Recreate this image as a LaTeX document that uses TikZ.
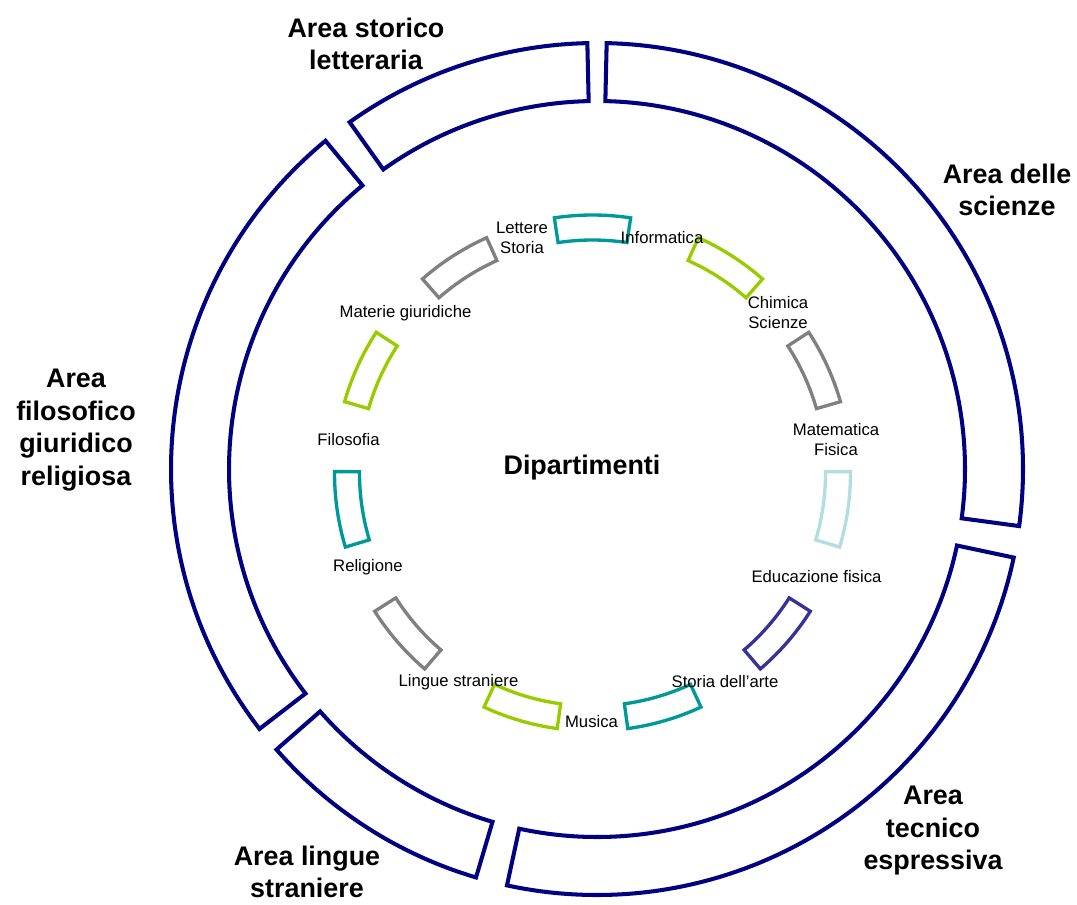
\documentclass[tikz,border=0pt]{standalone}
\usepackage{fontspec}
\setmainfont{Liberation Sans}
\usepackage{tikz}
\definecolor{areablue}{HTML}{000080}
\definecolor{deptteal}{HTML}{009999}
\definecolor{deptgreen}{HTML}{99CC00}
\definecolor{deptgray}{HTML}{808080}
\definecolor{deptlight}{HTML}{B2DDE1}
\definecolor{deptindigo}{HTML}{333399}
\tikzset{
    areaseg/.style = {
        draw=areablue,
        line width=2.3pt
    },
    deptseg/.style = {
        line width=1.9pt
    },
    arealabel/.style = {
        align=center,
        inner sep=0pt,
        font=\fontsize{15.3}{18.5}\selectfont\bfseries
    },
    deptlabel/.style = {
        align=center,
        inner sep=0pt,
        font=\fontsize{9.5}{11}\selectfont
    }
}

\begin{document}
\begin{tikzpicture}[x=0.02cm, y=0.02cm]
    \useasboundingbox (0,0) rectangle (1077,904);
    \begin{scope}[shift={(597,435)}]
        \foreach \a/\b in {91.3/125.5, 129.6/217.6, 221.2/253.5, 257.8/348.0, 352.3/448.7} {
            \draw[areaseg] (\a:426) arc[start angle=\a, end angle=\b, radius=426]
                -- (\b:368) arc[start angle=\b, end angle=\a, radius=368] -- cycle;
        }
    \end{scope}
    \begin{scope}[shift={(592.5,431)}]
        \foreach \k/\col in {0/deptteal, 1/deptgreen, 2/deptgray, 3/deptlight, 4/deptindigo,
                5/deptteal, 6/deptgreen, 7/deptgray, 8/deptteal, 9/deptgreen, 10/deptgray} {
            \pgfmathsetmacro{\sa}{98.5-\k*360/11}
            \pgfmathsetmacro{\sb}{\sa-17}
            \draw[deptseg, draw=\col] (\sa:258) arc[start angle=\sa, end angle=\sb, radius=258]
                -- (\sb:233) arc[start angle=\sb, end angle=\sa, radius=233] -- cycle;
        }
    \end{scope}
    \node[arealabel] (storico) at (366,860) {Area storico\\letteraria};
    \node[arealabel] (scienze) at (1007,714) {Area delle\\scienze};
    \node[arealabel] (filosofico) at (76,474) {Area\\filosofico\\giuridico\\religiosa};
    \node[arealabel] (lingue) at (307,32) {Area lingue\\straniere};
    \node[arealabel] (tecnico) at (933,73) {Area\\tecnico\\espressiva};
    \node[arealabel] (dipartimenti) at (582,436) {Dipartimenti};
    \node[deptlabel] (lettere) at (522,666) {Lettere\\Storia};
    \node[deptlabel] (informatica) at (662,666) {Informatica};
    \node[deptlabel] (chimica) at (778,591.5) {Chimica\\Scienze};
    \node[deptlabel] (matematica) at (836,464.5) {Matematica\\Fisica};
    \node[deptlabel] (educazione) at (816.5,327) {Educazione fisica};
    \node[deptlabel] (arte) at (725,222) {Storia dell’arte};
    \node[deptlabel] (musica) at (591.5,182) {Musica};
    \node[deptlabel] (straniere) at (458.5,222) {Lingue straniere};
    \node[deptlabel] (religione) at (368,337) {Religione};
    \node[deptlabel] (filosofia) at (348.5,464) {Filosofia};
    \node[deptlabel] (giuridiche) at (405.5,591) {Materie giuridiche};
\end{tikzpicture}
\end{document}
